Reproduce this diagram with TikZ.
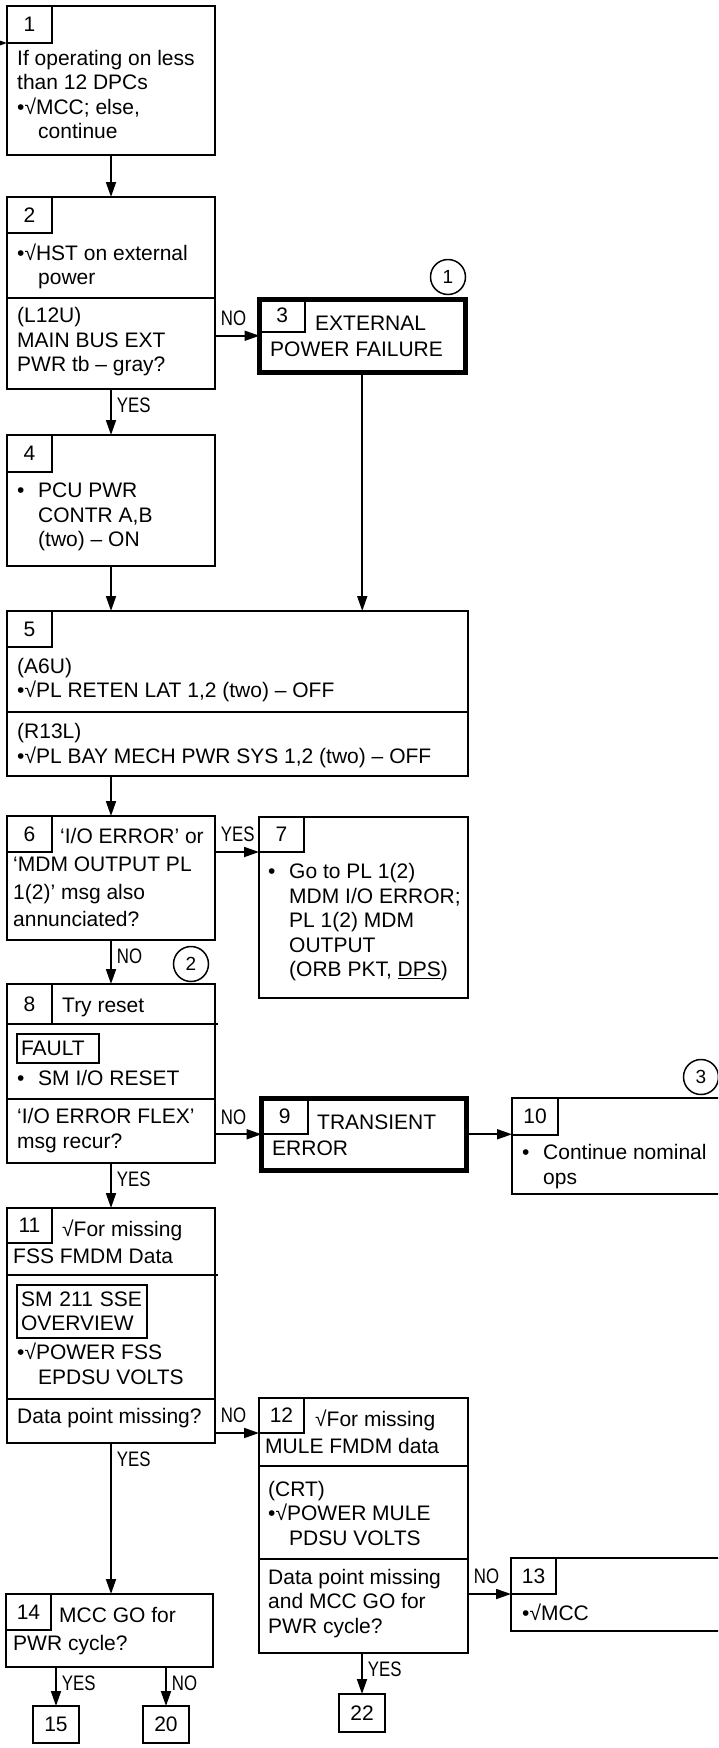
\documentclass[tikz,border=0pt]{standalone}
\usepackage{fontspec}
\setmainfont{Liberation Sans}
\newfontfamily\narrowfont[FakeStretch=0.8]{Liberation Sans}
\usetikzlibrary{arrows.meta}

\newcommand\boxfont{\fontsize{21}{24.5}\selectfont}
\newcommand\labfont{\narrowfont\fontsize{21}{24.5}\selectfont}
\newcommand\tabbul{\makebox[21pt][l]{•}}
\newcommand\hangin{\hspace*{21pt}}

% multi-line texts sit on the baseline of their last line
\tikzset{
  box/.style={draw, line width=2.4pt, inner sep=0pt, outer sep=0pt, anchor=north west},
  heavybox/.style={box, line width=5pt},
  numbox/.style={draw, line width=1.5pt, inner sep=0pt, outer sep=0pt, anchor=north west, minimum width=45pt, minimum height=36pt},
  endbox/.style={draw, line width=2pt, inner sep=0pt, outer sep=0pt, anchor=north west, minimum width=46pt, minimum height=37pt},
  txt/.style={anchor=base west, align=left, inner sep=0pt},
  inbox/.style={draw, line width=1.8pt, outer sep=0pt, inner xsep=4pt, inner ysep=0pt, anchor=north west, align=left},
  circnum/.style={draw, circle, line width=1.5pt, minimum size=35pt, inner sep=0pt, font=\fontsize{19}{19}\selectfont},
  divline/.style={line width=2pt},
  conn/.style={line width=1.8pt, -{Triangle[length=15pt,width=10pt]}},
  ylab/.style={font=\labfont, inner sep=0pt, anchor=north west, pos=0, xshift=5pt, yshift=-8pt},
  xlab/.style={font=\labfont, inner sep=0pt, anchor=south west, pos=0, xshift=5pt, yshift=9pt},
}

\begin{document}
\begin{tikzpicture}[x=1pt, y=-1pt, font=\boxfont]
\useasboundingbox (0,0) rectangle (718,1748);
\clip (0,0) rectangle (718,1748);

% step 1
\node[box, minimum width=208pt, minimum height=149pt] (b1) at (7,6) {};
\node[numbox, minimum height=37pt] (n1) at (b1.north west) {1};
\node[txt] (t1) at (17,138.5) {If operating on less\\than 12 DPCs\\•√MCC; else,\\\hangin continue};
\coordinate (in1) at (0,43);

% step 2
\node[box, minimum width=208pt, minimum height=192pt] (b2) at (7,197) {};
\node[numbox] (n2) at (b2.north west) {2};
\node[txt] (t2) at (17,284.5) {•√HST on external\\\hangin power};
\draw[divline] (7,298) -- (215,298);
\node[txt] (t2q) at (17,371.7) {(L12U)\\MAIN BUS EXT\\PWR tb – gray?};

% step 3
\node[heavybox, minimum width=205.5pt, minimum height=72.5pt] (b3) at (259.5,299.5) {};
\node[numbox, minimum width=45.5pt, minimum height=32.5pt] (n3) at (b3.north west) {3};
\node[txt] (t3a) at (315,330) {EXTERNAL};
\node[txt] (t3b) at (270,356) {POWER FAILURE};
\node[circnum] (c1) at (448,277) {1};

% step 4
\node[box, minimum width=208pt, minimum height=131pt] (b4) at (7,435) {};
\node[numbox, minimum height=37pt] (n4) at (b4.north west) {4};
\node[txt] (t4) at (17,546.7) {\tabbul PCU PWR\\\hangin CONTR A,B\\\hangin (two) – ON};

% step 5
\node[box, minimum width=461pt, minimum height=165pt] (b5) at (7,611) {};
\node[numbox] (n5) at (b5.north west) {5};
\node[txt] (t5a) at (17,697.7) {(A6U)\\•√PL RETEN LAT 1,2 (two) – OFF};
\draw[divline] (7,712) -- (468,712);
\node[txt] (t5b) at (17,763.3) {(R13L)\\•√PL BAY MECH PWR SYS 1,2 (two) – OFF};

% step 6
\node[box, minimum width=208pt, minimum height=124pt] (b6) at (7,816) {};
\node[numbox] (n6) at (b6.north west) {6};
\node[txt] (t6a) at (60,843.3) {‘I/O ERROR’ or};
\node[txt] (t6b) at (13,926.7) {‘MDM OUTPUT PL\\[3pt]1(2)’ msg also\\[3pt]annunciated?};

% step 7
\node[box, minimum width=209pt, minimum height=181pt] (b7) at (259,817) {};
\node[numbox, minimum height=35pt] (n7) at (b7.north west) {7};
\node[txt] (t7) at (268,976.7) {\tabbul Go to PL 1(2)\\\hangin MDM I/O ERROR;\\\hangin PL 1(2) MDM\\\hangin OUTPUT\\\hangin (ORB PKT, \underline{DPS})};
\node[circnum] (c2) at (191,964) {2};

% step 8
\node[box, minimum width=208pt, minimum height=179pt] (b8) at (7,984) {};
\node[numbox, minimum height=40pt] (n8) at (b8.north west) {8};
\node[txt] (t8a) at (62,1012.3) {Try reset};
\draw[divline] (7,1024) -- (218,1024);
\node[inbox, text width=74pt, minimum height=29pt] (f8) at (17,1034) {FAULT};
\node[txt] (t8b) at (17,1085) {\tabbul SM I/O RESET};
\draw[divline] (7,1099) -- (215,1099);
\node[txt] (t8q) at (17,1148.3) {‘I/O ERROR FLEX’\\msg recur?};

% step 9
\node[heavybox, minimum width=204.5pt, minimum height=72.5pt] (b9) at (261.5,1098) {};
\node[numbox, minimum width=46.5pt] (n9) at (b9.north west) {9};
\node[txt] (t9a) at (317,1129.3) {TRANSIENT};
\node[txt] (t9b) at (272,1155) {ERROR};

% step 10
\node[box, minimum width=218pt, minimum height=96pt] (b10) at (512,1098) {};
\node[numbox, minimum width=46pt, minimum height=37pt] (n10) at (b10.north west) {10};
\node[txt] (t10) at (522,1184) {\tabbul Continue nominal\\\hangin ops};
\node[circnum] (c3) at (701,1077) {3};

% step 11
\node[box, minimum width=208pt, minimum height=235pt] (b11) at (7,1208) {};
\node[numbox, minimum height=35pt] (n11) at (b11.north west) {11};
\node[txt] (t11a) at (62,1236) {√For missing};
\node[txt] (t11b) at (13,1263.3) {FSS FMDM Data};
\draw[divline] (7,1275) -- (218,1275);
\node[inbox, text width=122pt, minimum height=53pt] (s11) at (17,1285) {SM 211 SSE\\OVERVIEW};
\node[txt] (t11c) at (17,1384) {•√POWER FSS\\\hangin EPDSU VOLTS};
\draw[divline] (7,1399) -- (215,1399);
\node[txt] (t11q) at (17,1423.3) {Data point missing?};

% step 12
\node[box, minimum width=209pt, minimum height=255pt] (b12) at (259,1398) {};
\node[numbox, minimum height=35pt] (n12) at (b12.north west) {12};
\node[txt] (t12a) at (315,1426.7) {√For missing};
\node[txt] (t12b) at (265,1453.3) {MULE FMDM data};
\draw[divline] (259,1466) -- (468,1466);
\node[txt] (t12c) at (268,1545) {(CRT)\\•√POWER MULE\\\hangin PDSU VOLTS};
\draw[divline] (259,1559) -- (468,1559);
\node[txt] (t12q) at (268,1633.3) {Data point missing\\and MCC GO for\\PWR cycle?};

% step 13
\node[box, minimum width=219pt, minimum height=73pt] (b13) at (511,1558) {};
\node[numbox] (n13) at (b13.north west) {13};
\node[txt] (t13) at (522,1620.7) {•√MCC};

% step 14 and exits
\node[box, minimum width=207pt, minimum height=73pt] (b14) at (6,1594) {};
\node[numbox] (n14) at (b14.north west) {14};
\node[txt] (t14a) at (59,1622.3) {MCC GO for};
\node[txt] (t14b) at (13,1650) {PWR cycle?};
\node[endbox] (b15) at (33,1706) {15};
\node[endbox] (b20) at (143,1706) {20};
\node[endbox, minimum height=38pt] (b22) at (339,1694) {22};

% connectors
\draw[conn] (in1) -- (n1.south west);
\draw[conn] (b1) -- (b2);
\draw[conn] (b2.east |- b3.west) -- node[xlab] {NO} (b3.west);
\draw[conn] (b2) -- node[ylab] {YES} (b4);
\draw[conn] (b3) -- (b3 |- b5.north);
\draw[conn] (b4) -- (b4 |- b5.north);
\draw[conn] (b5.south -| b6) -- (b6);
\draw[conn] (b6.east |- n7.south west) -- node[xlab] {YES} (n7.south west);
\draw[conn] (b6) -- node[ylab] {NO} (b8);
\draw[conn] (b8.east |- b9.west) -- node[xlab] {NO} (b9.west);
\draw[conn] (b9.east) -- (b9.east -| b10.west);
\draw[conn] (b8) -- node[ylab] {YES} (b11);
\draw[conn] (b11.east |- n12.south west) -- node[xlab] {NO} (n12.south west);
\draw[conn] (b11) -- node[ylab] {YES} (b11 |- b14.north);
\draw[conn] (b12.east |- n13.south west) -- node[xlab] {NO} (n13.south west);
\draw[conn] (b12.south -| b22) -- node[ylab] {YES} (b22);
\draw[conn] (b14.south -| b15) -- node[ylab] {YES} (b15);
\draw[conn] (b14.south -| b20) -- node[ylab] {NO} (b20);
\end{tikzpicture}
\end{document}
